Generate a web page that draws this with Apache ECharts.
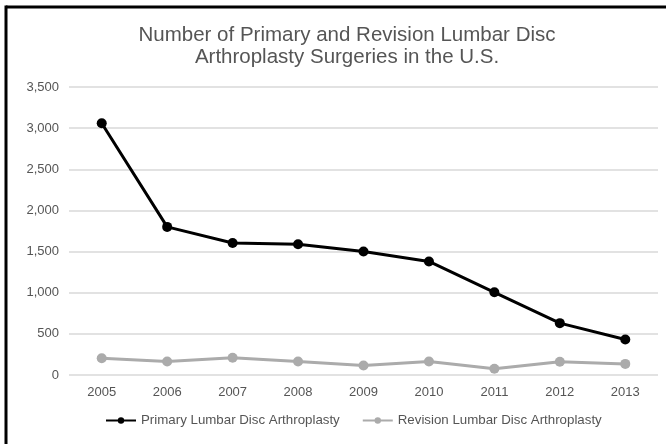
<!DOCTYPE html>
<html>
<head>
<meta charset="utf-8">
<script src="https://cdn.jsdelivr.net/npm/echarts@6/dist/echarts.min.js"></script>
<style>
  html, body { margin: 0; padding: 0; background: #fff; }
  #chart { width: 666px; height: 444px; }
</style>
</head>
<body>
<div id="chart"></div>
<script>
const years = ['2005', '2006', '2007', '2008', '2009', '2010', '2011', '2012', '2013'];
const primary = [3060, 1800, 1605, 1590, 1500, 1380, 1005, 630, 432];
const revision = [203, 165, 210, 165, 115, 165, 75, 162, 135];
const seriesNames = ['Primary Lumbar Disc Arthroplasty', 'Revision Lumbar Disc Arthroplasty'];

const chart = echarts.init(document.getElementById('chart'));
const font = 'Liberation Sans, Arial, sans-serif';

chart.setOption({
  backgroundColor: '#fff',
  animation: false,
  title: {
    text: 'Number of Primary and Revision Lumbar Disc\nArthroplasty Surgeries in the U.S.',
    left: 342,
    textAlign: 'center',
    top: 19,
    textStyle: {
      fontFamily: font,
      fontSize: 20.5,
      fontWeight: 'normal',
      color: '#555',
      lineHeight: 22
    }
  },
  legend: {
    top: 409,
    left: 100,
    itemWidth: 30,
    itemHeight: 8,
    itemGap: 22,
    textStyle: { fontFamily: font, fontSize: 13.3, color: '#555' },
    data: seriesNames
  },
  grid: { left: 69, right: 8, top: 87, bottom: 69 },
  xAxis: {
    type: 'category',
    data: years,
    axisLine: { show: false },
    axisTick: { show: false },
    axisLabel: { fontFamily: font, fontSize: 13, color: '#555', margin: 11 }
  },
  yAxis: {
    type: 'value',
    min: 0,
    max: 3500,
    interval: 500,
    axisLine: { show: false },
    axisTick: { show: false },
    axisLabel: {
      fontFamily: font, fontSize: 13, color: '#555', margin: 10,
      formatter: v => v.toLocaleString('en-US')
    },
    splitLine: { lineStyle: { color: '#d9d9d9', width: 1.5 } }
  },
  series: [
    {
      name: seriesNames[0],
      type: 'line',
      data: primary,
      symbol: 'circle',
      symbolSize: 10,
      lineStyle: { color: '#000', width: 3 },
      itemStyle: { color: '#000' }
    },
    {
      name: seriesNames[1],
      type: 'line',
      data: revision,
      symbol: 'circle',
      symbolSize: 10,
      lineStyle: { color: '#ababab', width: 3 },
      itemStyle: { color: '#ababab' }
    }
  ],
  graphic: [
    { type: 'line', shape: { x1: 6, y1: 7, x2: 666, y2: 7 }, style: { stroke: '#000', lineWidth: 3 } },
    { type: 'line', shape: { x1: 6, y1: 5.5, x2: 6, y2: 444 }, style: { stroke: '#000', lineWidth: 3 } }
  ]
});
</script>
</body>
</html>
